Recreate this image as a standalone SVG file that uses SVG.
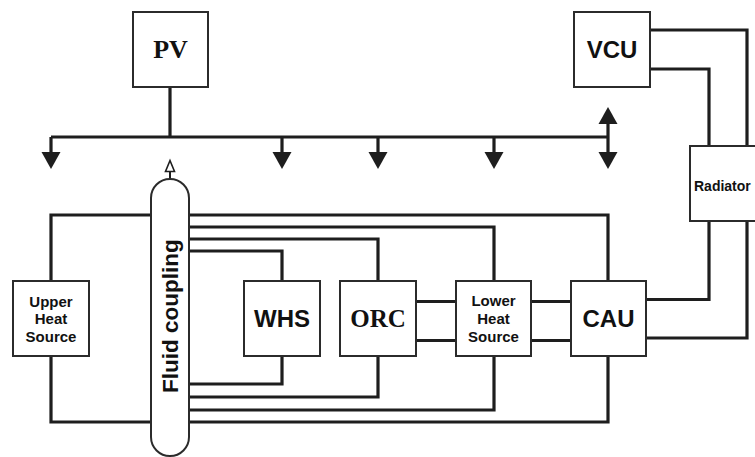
<svg xmlns="http://www.w3.org/2000/svg" width="755" height="457" viewBox="0 0 755 457">
<style>
.box{fill:#fff;stroke:#2b2b2b;stroke-width:2}
.ln{fill:none;stroke:#1e1e1e;stroke-width:3.2;stroke-linejoin:miter}
.ah{fill:#1e1e1e}
.sans{font-family:"Liberation Sans",Arial,sans-serif;font-weight:bold;fill:#111;text-anchor:middle}
.serif{font-family:"Liberation Serif","Times New Roman",serif;font-weight:bold;fill:#111;text-anchor:middle}
</style>
<rect width="755" height="457" fill="#fff"/>
<g id="connectors">
  <path class="ln" d="M170 87V137M51 137H608M51 137V153M282 137V153M378 137V153M494 137V153M608 137V153M608 137V122"/>
  <polygon class="ah" points="41.5,152 60.5,152 51,169"/>
  <polygon class="ah" points="272.5,152 291.5,152 282,169"/>
  <polygon class="ah" points="368.5,152 387.5,152 378,169"/>
  <polygon class="ah" points="484.5,152 503.5,152 494,169"/>
  <polygon class="ah" points="598.5,152 617.5,152 608,169"/>
  <polygon class="ah" points="598.5,124 617.5,124 608,107"/>
  <path class="ln" d="M151 215H51V281M51 356V422H151"/>
  <path class="ln" d="M189 215H608V281M189 227H494V281M189 239H378V281M189 251H282V281"/>
  <path class="ln" d="M189 422H608V356M189 410H494V356M189 397H378V356M189 384H282V356"/>
  <path class="ln" d="M416 301.5H456M416 340.5H456M531 301.5H571M531 340.5H571"/>
  <path class="ln" d="M646 299.5H709V221M646 338H747V221"/>
  <path class="ln" d="M650 30H747V146M650 69H709V146"/>
  <path d="M170 179V171.5" stroke="#1e1e1e" stroke-width="2" fill="none"/>
  <polygon points="165.5,171.5 174.5,171.5 170,160.5" fill="#fff" stroke="#1e1e1e" stroke-width="1.6"/>
</g>
<g id="pv">
  <rect class="box" x="133" y="12" width="75" height="75"/>
  <text class="serif" x="170.5" y="58" font-size="26">PV</text>
</g>
<g id="vcu">
  <rect class="box" x="574" y="12" width="76" height="75"/>
  <text class="sans" x="612" y="58" font-size="24">VCU</text>
</g>
<g id="radiator">
  <rect class="box" x="690" y="146" width="76" height="75"/>
  <text class="sans" x="694" y="191" font-size="14" style="text-anchor:start">Radiator</text>
</g>
<g id="fluid-coupling">
  <rect class="box" x="151" y="179" width="38" height="277" rx="19" ry="19"/>
  <text class="sans" x="177.5" y="316" font-size="22.5" transform="rotate(-90 177.5 316)">Fluid coupling</text>
</g>
<g id="upper-heat-source">
  <rect class="box" x="13" y="281" width="76" height="75"/>
  <text class="sans" font-size="15"><tspan x="51" y="306.5">Upper</tspan><tspan x="51" y="324.3">Heat</tspan><tspan x="51" y="342.2">Source</tspan></text>
</g>
<g id="whs">
  <rect class="box" x="244" y="281" width="76" height="75"/>
  <text class="sans" x="282" y="327" font-size="24">WHS</text>
</g>
<g id="orc">
  <rect class="box" x="340" y="281" width="76" height="75"/>
  <text class="serif" x="378" y="327" font-size="25">ORC</text>
</g>
<g id="lower-heat-source">
  <rect class="box" x="456" y="281" width="75" height="75"/>
  <text class="sans" font-size="15"><tspan x="493.5" y="305.7">Lower</tspan><tspan x="493.5" y="323.5">Heat</tspan><tspan x="493.5" y="341.5">Source</tspan></text>
</g>
<g id="cau">
  <rect class="box" x="571" y="281" width="75" height="75"/>
  <text class="sans" x="608.5" y="327" font-size="24">CAU</text>
</g>
</svg>
